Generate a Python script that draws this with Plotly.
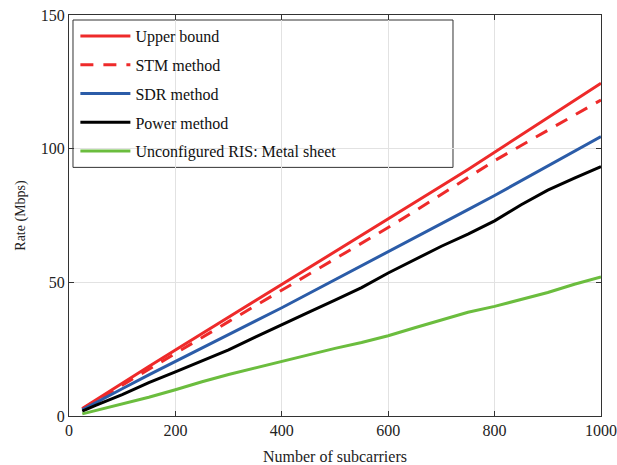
import plotly.graph_objects as go

subcarriers = [25, 50, 100, 150, 200, 250, 300, 350, 400, 450, 500, 550, 600, 650, 700, 750, 800, 850, 900, 950, 1000]
upper_bound = [2.8, 6.0, 12.3, 18.5, 24.7, 30.8, 37.0, 43.1, 49.3, 55.4, 61.5, 67.6, 73.6, 79.8, 86.0, 92.2, 98.6, 105.0, 111.4, 117.9, 124.5]
stm_method = [2.6, 5.6, 11.6, 17.6, 23.5, 29.4, 35.3, 41.2, 47.0, 52.8, 58.7, 64.6, 70.5, 76.6, 82.8, 89.1, 95.5, 101.2, 106.8, 112.5, 118.2]
sdr_method = [2.3, 5.0, 10.2, 15.4, 20.5, 25.5, 30.5, 35.5, 40.5, 45.7, 51.0, 56.2, 61.5, 66.7, 72.0, 77.2, 82.5, 88.0, 93.5, 99.0, 104.5]
power_method = [1.8, 4.0, 8.0, 12.5, 16.5, 20.5, 24.7, 29.5, 34.3, 38.8, 43.3, 48.0, 53.5, 58.5, 63.5, 68.0, 73.0, 79.0, 84.5, 89.0, 93.3]
metal_sheet = [0.8, 2.0, 4.5, 7.0, 9.8, 12.8, 15.5, 18.0, 20.4, 22.8, 25.3, 27.5, 30.0, 33.0, 36.0, 38.8, 41.0, 43.5, 46.2, 49.3, 52.0]

series = [
    ("Upper bound", upper_bound, "#ee2a2a", "solid"),
    ("STM method", stm_method, "#ee2a2a", "13px,10px"),
    ("SDR method", sdr_method, "#2b5ca8", "solid"),
    ("Power method", power_method, "#000000", "solid"),
    ("Unconfigured RIS: Metal sheet", metal_sheet, "#6bbd3e", "solid"),
]

fig = go.Figure()
for i, (name, ys, color, dash) in enumerate(series):
    fig.add_trace(go.Scatter(
        x=subcarriers, y=ys, mode="lines", name=name,
        line=dict(color=color, width=3, dash=dash),
        legendgroup=f"g{i}",
    ))

font = "Liberation Serif"
fig.update_layout(
    width=617, height=465,
    margin=dict(l=69, r=16, t=15, b=49, autoexpand=False),
    paper_bgcolor="white", plot_bgcolor="white",
    font=dict(family=font, size=15, color="#222"),
    showlegend=True,
    legend=dict(
        x=0.012, y=0.99, xanchor="left", yanchor="top",
        bgcolor="rgba(255,255,255,0)", borderwidth=0,
        font=dict(family=font, size=16, color="#111"),
        tracegroupgap=5, itemwidth=50,
    ),
    xaxis=dict(
        range=[0, 1000], tickvals=[0, 200, 400, 600, 800, 1000],
        showgrid=True, gridcolor="#e2e2e2", gridwidth=1,
        showline=True, linecolor="#333", linewidth=1, mirror="ticks",
        ticks="inside", ticklen=5, tickcolor="#333",
        zeroline=False, automargin=False,
        title=dict(text="Number of subcarriers", font=dict(size=16, family=font), standoff=12),
        tickfont=dict(size=16, family=font),
    ),
    yaxis=dict(
        range=[0, 150], tickvals=[0, 50, 100, 150],
        showgrid=True, gridcolor="#e2e2e2", gridwidth=1,
        showline=True, linecolor="#333", linewidth=1, mirror="ticks",
        ticks="inside", ticklen=5, tickcolor="#333",
        zeroline=False, automargin=False,
        title=dict(text="Rate (Mbps)", font=dict(size=14, family=font), standoff=11),
        tickfont=dict(size=16, family=font),
    ),
    shapes=[dict(
        type="rect", xref="paper", yref="paper",
        x0=0.0075, x1=0.7218, y0=0.62, y1=0.9875,
        line=dict(color="#333", width=1), fillcolor="rgba(255,255,255,1)", layer="below",
    )],
)

fig.write_html("out.html")
